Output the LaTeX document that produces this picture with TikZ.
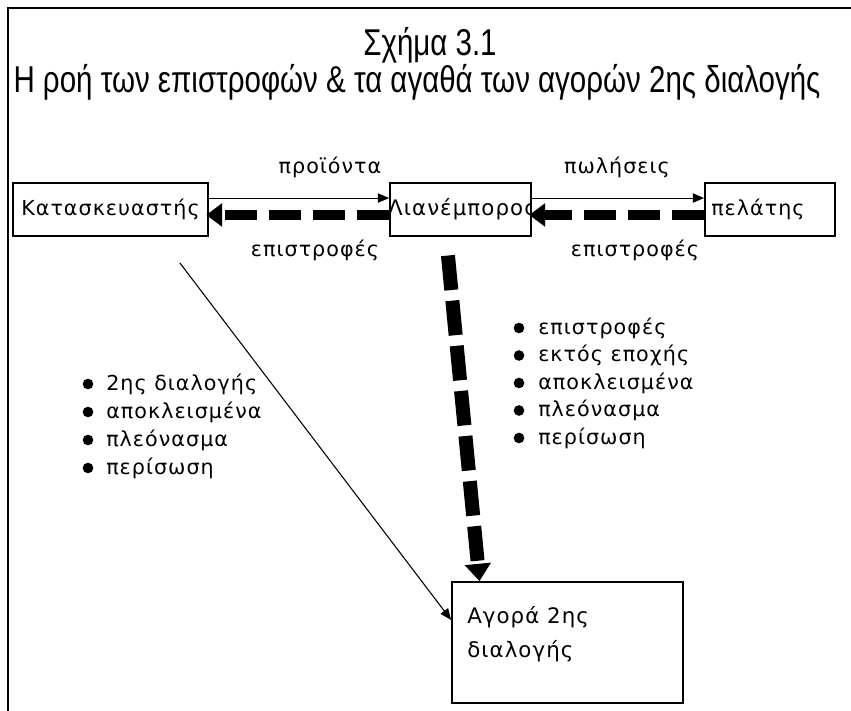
\documentclass[tikz,border=0pt]{standalone}
\usepackage{fontspec}
\setmainfont[LetterSpace=5]{DejaVu Sans}
\newfontfamily\titlefont[FakeStretch=0.79]{Liberation Sans}
\usetikzlibrary{arrows.meta}
\newcommand\bodysize{\fontsize{15.5}{18}\selectfont}
\begin{document}
\begin{tikzpicture}[x=0.75pt,y=-0.75pt,
  box/.style={draw, line width=1.3pt, inner sep=0pt, font=\bodysize},
  lbl/.style={inner sep=0pt, font=\bodysize},
  item/.style={inner sep=0pt, anchor=west, font=\bodysize},
  dot/.style={circle, fill, inner sep=0pt, minimum size=8pt},
  flow/.style={line width=0.8pt, -{Triangle[length=8.5pt,width=7pt]}},
  ret/.style={line width=7.5pt, dash pattern=on 24pt off 9pt,
              -{Triangle[length=12pt,width=17pt]}, shorten >=-2pt},
  retv/.style={line width=10.5pt, dash pattern=on 26pt off 8pt,
              -{Triangle[length=13pt,width=19pt]}},
  ttl/.style={inner sep=0pt, font=\titlefont\fontsize{28}{32}\selectfont}]
\useasboundingbox (0,0) rectangle (851,711);
% outer frame: top and left edges
\draw[line width=1.5pt] (8,711) -- (8,8) -- (851,8);

% heading
\node[ttl] (t1) at (430,45) {Σχήμα 3.1};
\node[ttl] (t2) at (417,82) {Η ροή των επιστροφών \& τα αγαθά των αγορών 2ης διαλογής};

% boxes
\node[box, minimum width=146.25pt, minimum height=39.75pt] (K) at (110.5,209.5) {Κατασκευαστής};
\node[box, minimum width=105.75pt, minimum height=39.75pt] (L) at (460.5,209.5) {};
\begin{scope}
  \clip (L.south west) rectangle (L.north east);
  \node[lbl, font=\fontsize{16}{19}\selectfont] (Ltext) at ([xshift=1.5pt]L.center) {Λιανέμπορος};
\end{scope}
\node[box, minimum width=97.5pt, minimum height=39.75pt] (P) at (770,209.5) {};
\node[lbl, anchor=west] (Ptext) at (711,209.5) {πελάτης};
\node[box, minimum width=173.25pt, minimum height=90.75pt] (A) at (567.5,642.5) {};
\node[lbl, anchor=north west, align=left, font=\fontsize{16}{25.5}\selectfont] (Atext) at (467,606) {Αγορά 2ης\\διαλογής};

% forward flows
\draw[flow] ([yshift=8.6pt]K.east) -- ([yshift=8.6pt]L.west);
\draw[flow] ([yshift=8.6pt]L.east) -- ([yshift=8.6pt]P.west);
\node[lbl] (l1) at (330,167) {προϊόντα};
\node[lbl] (l2) at (617,167) {πωλήσεις};

% returns
\draw[ret] ([yshift=-4.1pt]L.west) -- ([yshift=-4.1pt]K.east);
\draw[ret] ([yshift=-4.1pt]P.west) -- ([yshift=-4.1pt]L.east);
\node[lbl] (l3) at (315,250) {επιστροφές};
\node[lbl] (l4) at (635,250) {επιστροφές};

% to the secondary market
\coordinate (vs) at ([xshift=-9.4pt,yshift=-14pt]L.south);
\draw[retv] (vs) -- ([xshift=-66pt]A.north);
\coordinate (ds) at ([xshift=52pt,yshift=-19.5pt]K.south);
\draw[flow] (ds) -- ([yshift=16.9pt]A.west);

% bullet lists
\foreach \t [count=\i] in {2ης διαλογής, αποκλεισμένα, πλεόνασμα, περίσωση}{
  \node[dot] (lb\i) at (88,{384+28*(\i-1)}) {};
  \node[item] (lt\i) at (106,{384+28*(\i-1)}) {\t};
}
\foreach \t [count=\i] in {επιστροφές, εκτός εποχής, αποκλεισμένα, πλεόνασμα, περίσωση}{
  \node[dot] (rb\i) at (519,{328+27.5*(\i-1)}) {};
  \node[item] (rt\i) at (538,{328+27.5*(\i-1)}) {\t};
}
\end{tikzpicture}
\end{document}
